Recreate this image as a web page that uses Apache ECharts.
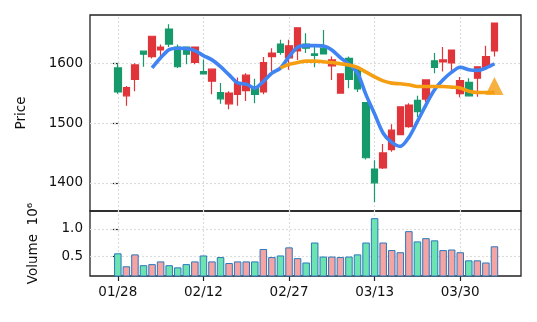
<!DOCTYPE html>
<html>
<head>
<meta charset="utf-8">
<script src="https://cdn.jsdelivr.net/npm/echarts@6/dist/echarts.min.js"></script>
<style>
html,body{margin:0;padding:0;background:#fff;}
#chart{width:537px;height:322px;}
</style>
</head>
<body>
<div id="chart"></div>
<script>
// ---- data ----
const tickLabels = ['01/28', '02/12', '02/27', '03/13', '03/30'];
const tickPos = [0, 10, 20, 30, 40];
const priceTicks = [1400, 1500, 1600];
const volumeTicks = [0.5, 1.0];

const opens  = [1552,1559,1597,1615,1645,1627,1632,1594,1615,1627,1582,1590,1540.5,1550,1567,1580,1548,1601,1617,1618,1629,1659,1625,1613,1615.5,1605.5,1582,1573,1557,1442,1400,1450,1488,1527,1530,1519,1572,1593,1605.5,1622,1571,1545.5,1594,1611,1667];
const closes = [1592,1545.5,1573,1620,1611,1622,1657,1627,1627,1601.5,1586,1570,1551,1532,1548,1554,1559,1552,1611,1632,1609,1620.5,1632,1615.5,1625,1595.5,1550,1608,1589,1534,1423,1425,1455.5,1480.5,1494,1538,1540,1604,1602,1600.5,1549,1568,1575,1593,1620.5];
const lows   = [1549,1529,1553,1594,1608,1611,1627,1592,1598,1598,1582,1548,1532,1523,1529,1537,1533,1548,1586,1614,1589,1605.5,1617,1593,1615.5,1572,1550,1558,1552,1439,1368,1423,1452,1480.5,1492,1510,1535,1583,1586,1586,1543,1545.5,1544,1593,1611];
const highs  = [1600,1562,1600,1621,1645,1631,1665,1631,1627,1627,1606,1590,1567,1553,1576,1583,1574,1610.5,1625,1639,1639,1659,1650,1627,1655.5,1611,1582,1611,1592,1534,1438,1465,1498,1527,1533,1545.5,1573,1617,1627,1622,1577,1575,1594,1629,1667];
const volumes = [0.55,0.31,0.53,0.33,0.35,0.40,0.33,0.29,0.35,0.40,0.51,0.40,0.48,0.37,0.40,0.40,0.40,0.63,0.48,0.51,0.66,0.46,0.38,0.75,0.49,0.49,0.48,0.49,0.53,0.75,1.20,0.75,0.61,0.57,0.96,0.77,0.83,0.79,0.61,0.62,0.57,0.42,0.42,0.38,0.68];
const maShort = [null,null,null,null,1592,1609,1622.7,1625,1624.5,1621,1612.7,1605.5,1594.3,1580.5,1567,1565,1558.3,1569.3,1583.3,1591.7,1611,1626.7,1629.3,1629.3,1628.8,1622.2,1609.3,1598.3,1583.3,1547,1515,1483,1467.7,1461,1476,1502.7,1530.5,1555.5,1572.2,1585,1593.3,1589,1588,1592,1599];
const maLong = [null,null,null,null,null,null,null,null,null,null,null,null,null,null,null,null,null,null,null,1592,1598,1601,1603.5,1603.5,1602.5,1601,1599,1597,1593,1585,1577,1570.5,1566.7,1565.5,1564,1561,1561,1561,1561,1560,1558.5,1553,1551,1551,1551.5];
const markerIdx = 44;
const markerPrice = 1562;

// ---- build chart ----
const UP = '#16996b', DOWN = '#e0353a';
const candleData = opens.map((o, i) => [i, o, closes[i], lows[i], highs[i]]);
const volData = volumes.map((v, i) => ({
  value: [i, v],
  itemStyle: { color: closes[i] >= opens[i] ? '#6ee3b2' : '#f5a3a3' }
}));
const toXY = arr => arr.map((v, i) => [i, v]);

const gridStyle = { color: '#dcdcdc', type: [2, 2], width: 1.2 };
function gridMarks(yVals) {
  return {
    silent: true, symbol: 'none', z: 1, animation: false,
    label: { show: false },
    lineStyle: gridStyle,
    emphasis: { disabled: true },
    data: tickPos.map(v => ({ xAxis: v })).concat(yVals.map(v => ({ yAxis: v })))
  };
}
const txt = { color: '#111', fontFamily: 'DejaVu Sans', fontSize: 13.5 };
const xCommon = { type: 'value', min: -3.25, max: 47.1, axisLine: { show: false }, splitLine: { show: false } };
const tickStyle = { show: true, length: 5, lineStyle: { color: '#222', width: 1.2 } };

const chart = echarts.init(document.getElementById('chart'), null, { renderer: 'canvas' });
chart.setOption({
  animation: false,
  backgroundColor: '#fff',
  grid: [
    { left: 90, top: 15, width: 431, height: 196, show: true, borderColor: '#222', borderWidth: 1.3, backgroundColor: 'transparent' },
    { left: 90, top: 211, width: 431, height: 65, show: true, borderColor: '#222', borderWidth: 1.3, backgroundColor: 'transparent' }
  ],
  xAxis: [
    Object.assign({}, xCommon, { gridIndex: 0,
      axisTick: { show: false },
      axisLabel: { show: false } }),
    Object.assign({}, xCommon, { gridIndex: 1,
      axisTick: Object.assign({ customValues: tickPos }, tickStyle),
      axisLabel: Object.assign({ customValues: tickPos, margin: 9, formatter: v => tickLabels[tickPos.indexOf(v)] }, txt) })
  ],
  yAxis: [
    { type: 'value', gridIndex: 0, min: 1353, max: 1680.5, axisLine: { show: false }, splitLine: { show: false },
      axisTick: Object.assign({ customValues: priceTicks }, tickStyle),
      axisLabel: Object.assign({ customValues: priceTicks, margin: 7, formatter: v => String(v) }, txt),
      name: 'Price', nameLocation: 'middle', nameGap: 62, nameRotate: 90,
      nameTextStyle: txt },
    { type: 'value', gridIndex: 1, min: 0.13, max: 1.333, axisLine: { show: false }, splitLine: { show: false },
      axisTick: Object.assign({ customValues: volumeTicks }, tickStyle),
      axisLabel: Object.assign({ customValues: volumeTicks, margin: 7, formatter: v => v.toFixed(1) }, txt),
      name: 'Volume  10⁶', nameLocation: 'middle', nameGap: 50, nameRotate: 90,
      nameTextStyle: txt }
  ],
  series: [
    { type: 'candlestick', xAxisIndex: 0, yAxisIndex: 0, data: candleData, barWidth: 7,
      encode: { x: 0, y: [1, 2, 3, 4] },
      itemStyle: { color: UP, color0: DOWN, borderColor: UP, borderColor0: DOWN, borderWidth: 1.2 },
      markLine: gridMarks(priceTicks) },
    { type: 'line', xAxisIndex: 0, yAxisIndex: 0, data: toXY(maShort), showSymbol: false, smooth: 0.3,
      lineStyle: { color: '#3f84f2', width: 3.6 }, z: 5 },
    { type: 'line', xAxisIndex: 0, yAxisIndex: 0, data: toXY(maLong), showSymbol: false, smooth: 0.3,
      lineStyle: { color: '#f59e12', width: 3.6 }, z: 5 },
    { type: 'scatter', xAxisIndex: 0, yAxisIndex: 0, data: [[markerIdx, markerPrice]], symbol: 'triangle', symbolSize: 18,
      itemStyle: { color: '#f59e12' }, z: 6 },
    { type: 'bar', xAxisIndex: 1, yAxisIndex: 1, data: volData, barWidth: 7.5,
      itemStyle: { borderColor: '#2a78bd', borderWidth: 1 },
      markLine: gridMarks(volumeTicks) }
  ]
});
</script>
</body>
</html>
